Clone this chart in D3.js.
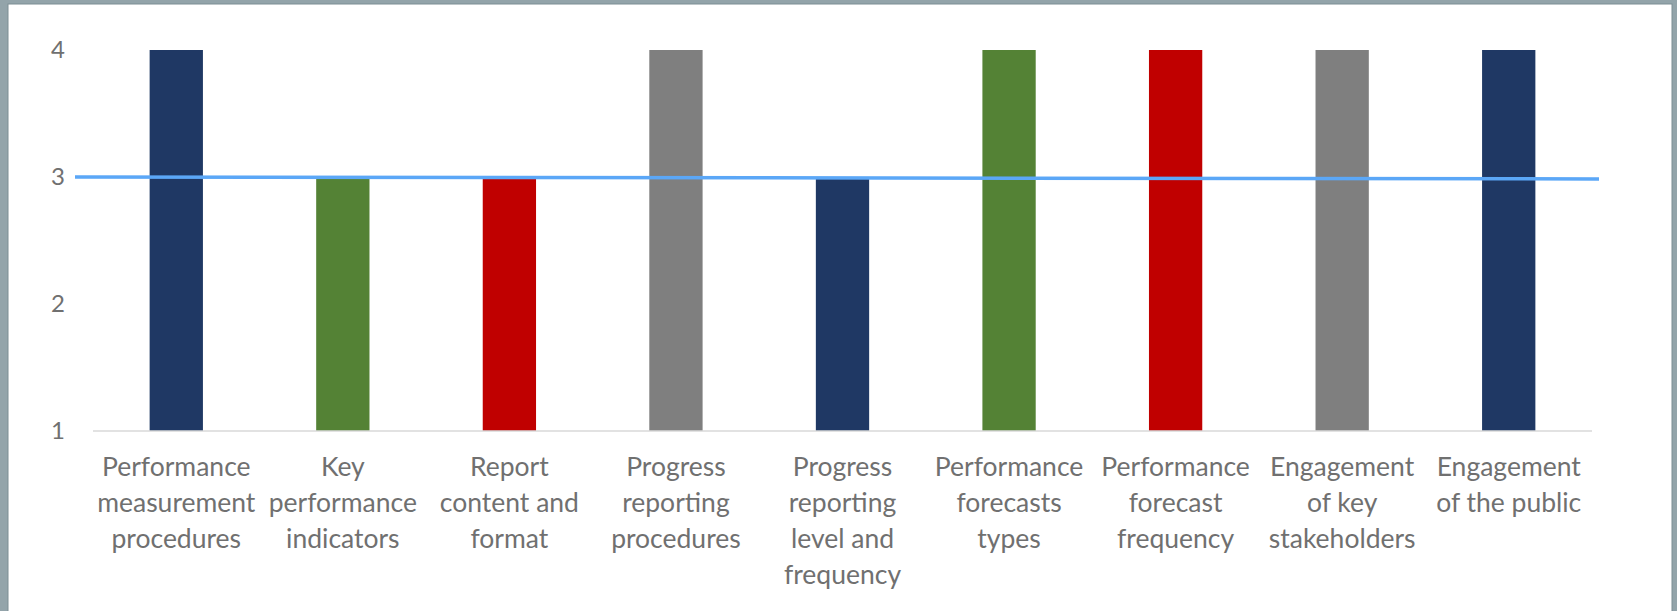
<!DOCTYPE html>
<html lang="en">
<head>
<meta charset="utf-8">
<title>Performance rating chart</title>
<script src="https://d3js.org/d3.v7.min.js"></script>
<style>
    body, html {
        margin: 0;
        padding: 0;
        background: #93a4aa;
    }
    svg {
        display: block;
    }
    .axis text {
        font-family: Lato, sans-serif;
        font-size: 24px;
        fill: #707070;
    }
    .xlabel {
        font-family: Lato, sans-serif;
        font-size: 26.5px;
        fill: #707070;
    }
</style>
</head>
<body>
<svg id="chart" width="1677" height="611"></svg>
<script>
    // chart data
    var categories = [
        ["Performance", "measurement", "procedures"],
        ["Key", "performance", "indicators"],
        ["Report", "content and", "format"],
        ["Progress", "reporting", "procedures"],
        ["Progress", "reporting", "level and", "frequency"],
        ["Performance", "forecasts", "types"],
        ["Performance", "forecast", "frequency"],
        ["Engagement", "of key", "stakeholders"],
        ["Engagement", "of the public"]
    ];
    var values = [4, 3, 3, 4, 3, 4, 4, 4, 4];
    var barColors = ["#1f3864", "#548235", "#c00000", "#7f7f7f",
                     "#1f3864", "#548235", "#c00000", "#7f7f7f", "#1f3864"];
    var yTicks = [1, 2, 3, 4];
    var targetLine = [3, 2.985];   // start / end value of the blue line

    var svg = d3.select("#chart");
    var W = 1677, H = 611;
    var margin = {top: 50, right: 85, bottom: 180, left: 93};

    // white panel inside the grey frame
    svg.append("rect")
        .attr("x", 8).attr("y", 4)
        .attr("width", W - 13).attr("height", H)
        .attr("fill", "#ffffff")
        .attr("stroke", "#7d8e94")
        .attr("stroke-width", 1);

    var x = d3.scaleBand()
        .domain(d3.range(categories.length))
        .range([margin.left, W - margin.right])
        .paddingInner(0.68)
        .paddingOuter(0.34);

    var y = d3.scaleLinear()
        .domain([1, 4])
        .range([H - margin.bottom, margin.top]);

    // bars
    svg.append("g").selectAll("rect")
        .data(values)
        .enter().append("rect")
            .attr("x", function(d, i) { return x(i); })
            .attr("y", function(d) { return y(d); })
            .attr("width", x.bandwidth())
            .attr("height", function(d) { return y(1) - y(d); })
            .attr("fill", function(d, i) { return barColors[i]; });

    // baseline
    svg.append("line")
        .attr("x1", margin.left).attr("x2", W - margin.right)
        .attr("y1", y(1)).attr("y2", y(1))
        .attr("stroke", "#d9d9d9")
        .attr("stroke-width", 1.5);

    // y axis labels
    var yAxis = svg.append("g")
        .attr("class", "axis")
        .attr("transform", "translate(" + (margin.left - 28) + ",0)")
        .call(d3.axisLeft(y).tickValues(yTicks).tickFormat(d3.format("d")).tickSize(0).tickPadding(0));
    yAxis.select(".domain").remove();

    // x labels
    var lineH = 36;
    var xl = svg.append("g").selectAll("text")
        .data(categories)
        .enter().append("text")
            .attr("class", "xlabel")
            .attr("text-anchor", "middle")
            .attr("x", function(d, i) { return x(i) + x.bandwidth() / 2; })
            .attr("y", y(1) + 45);
    xl.selectAll("tspan")
        .data(function(d) { return d; })
        .enter().append("tspan")
            .attr("x", function() { return d3.select(this.parentNode).attr("x"); })
            .attr("dy", function(d, i) { return i === 0 ? 0 : lineH; })
            .text(function(d) { return d; });

    // target line
    var lx = [margin.left - 18, W - margin.right + 7];
    svg.append("line")
        .attr("x1", lx[0]).attr("x2", lx[1])
        .attr("y1", y(targetLine[0])).attr("y2", y(targetLine[1]))
        .attr("stroke", "#5ba7f7")
        .attr("stroke-width", 3.5);
</script>
</body>
</html>
